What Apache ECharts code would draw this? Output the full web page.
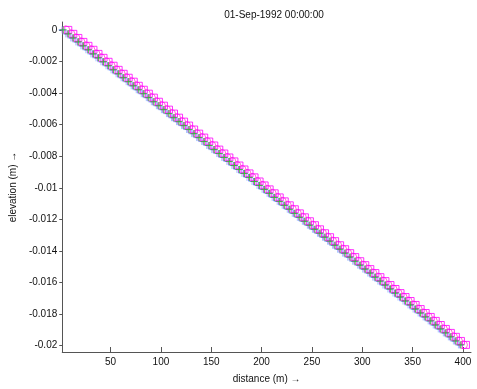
<!DOCTYPE html>
<html>
<head>
<meta charset="utf-8">
<script src="https://cdn.jsdelivr.net/npm/echarts@6/dist/echarts.min.js"></script>
<style>html,body{margin:0;padding:0;background:#fff}#c{width:477px;height:389px}</style>
</head>
<body>
<div id="c"></div>
<script>
var titleText = '01-Sep-1992 00:00:00';
var xName = 'distance (m) \u2192';
var yName = 'elevation (m) \u2192';
var xTicks = [50, 100, 150, 200, 250, 300, 350, 400];
var yTicks = [0, -0.002, -0.004, -0.006, -0.008, -0.01, -0.012, -0.014, -0.016, -0.018, -0.02];

var elev = [0, -0.00025, -0.00051, -0.00076, -0.00101, -0.00126, -0.00152, -0.00177, -0.00202, -0.00227,
  -0.00253, -0.00278, -0.00303, -0.00328, -0.00354, -0.00379, -0.00404, -0.00429, -0.00455, -0.0048,
  -0.00505, -0.0053, -0.00556, -0.00581, -0.00606, -0.00631, -0.00657, -0.00682, -0.00707, -0.00732,
  -0.00758, -0.00783, -0.00808, -0.00833, -0.00859, -0.00884, -0.00909, -0.00934, -0.0096, -0.00985,
  -0.0101, -0.01035, -0.01061, -0.01086, -0.01111, -0.01136, -0.01162, -0.01187, -0.01212, -0.01237,
  -0.01263, -0.01288, -0.01313, -0.01338, -0.01364, -0.01389, -0.01414, -0.01439, -0.01465, -0.0149,
  -0.01515, -0.0154, -0.01566, -0.01591, -0.01616, -0.01641, -0.01667, -0.01692, -0.01717, -0.01742,
  -0.01768, -0.01793, -0.01818, -0.01843, -0.01869, -0.01894, -0.01919, -0.01944, -0.0197, -0.01995];

var xSquares = [8,13,18,23,28,33,38,43,48,53,58,63,68,73,78,83,88,93,98,103,108,113,118,123,128,133,138,143,148,153,158,163,168,173,178,183,188,193,198,203,208,213,218,223,228,233,238,243,248,253,258,263,268,273,278,283,288,293,298,303,308,313,318,323,328,333,338,343,348,353,358,363,368,373,378,383,388,393,398,403];
var xCircles = [5.5,10.5,15.5,20.5,25.5,30.5,35.5,40.5,45.5,50.5,55.5,60.5,65.5,70.5,75.5,80.5,85.5,90.5,95.5,100.5,105.5,110.5,115.5,120.5,125.5,130.5,135.5,140.5,145.5,150.5,155.5,160.5,165.5,170.5,175.5,180.5,185.5,190.5,195.5,200.5,205.5,210.5,215.5,220.5,225.5,230.5,235.5,240.5,245.5,250.5,255.5,260.5,265.5,270.5,275.5,280.5,285.5,290.5,295.5,300.5,305.5,310.5,315.5,320.5,325.5,330.5,335.5,340.5,345.5,350.5,355.5,360.5,365.5,370.5,375.5,380.5,385.5,390.5,395.5,400.5];
var xGreen = [3,8,13,18,23,28,33,38,43,48,53,58,63,68,73,78,83,88,93,98,103,108,113,118,123,128,133,138,143,148,153,158,163,168,173,178,183,188,193,198,203,208,213,218,223,228,233,238,243,248,253,258,263,268,273,278,283,288,293,298,303,308,313,318,323,328,333,338,343,348,353,358,363,368,373,378,383,388,393,398];
var xBlue = [2,7,12,17,22,27,32,37,42,47,52,57,62,67,72,77,82,87,92,97,102,107,112,117,122,127,132,137,142,147,152,157,162,167,172,177,182,187,192,197,202,207,212,217,222,227,232,237,242,247,252,257,262,267,272,277,282,287,292,297,302,307,312,317,322,327,332,337,342,347,352,357,362,367,372,377,382,387,392,397];
var xLight = [0.5,5.5,10.5,15.5,20.5,25.5,30.5,35.5,40.5,45.5,50.5,55.5,60.5,65.5,70.5,75.5,80.5,85.5,90.5,95.5,100.5,105.5,110.5,115.5,120.5,125.5,130.5,135.5,140.5,145.5,150.5,155.5,160.5,165.5,170.5,175.5,180.5,185.5,190.5,195.5,200.5,205.5,210.5,215.5,220.5,225.5,230.5,235.5,240.5,245.5,250.5,255.5,260.5,265.5,270.5,275.5,280.5,285.5,290.5,295.5,300.5,305.5,310.5,315.5,320.5,325.5,330.5,335.5,340.5,345.5,350.5,355.5,360.5,365.5,370.5,375.5,380.5,385.5,390.5,395.5];

function pairs(xs, ys) { return xs.map(function (x, i) { return [x, ys[i]]; }); }
var plus = 'path://M0,5L10,5M5,0L5,10';

function fmtY(v) { return String(Number(v.toFixed(4))); }

var chart = echarts.init(document.getElementById('c'), null, {renderer: 'canvas'});
var axisColor = '#555';
var font = 'Liberation Sans, Arial, sans-serif';
chart.setOption({
  animation: false,
  backgroundColor: '#fff',
  title: {
    text: titleText, left: 269, top: 5, textAlign: 'center',
    textStyle: {fontSize: 10, fontWeight: 'normal', color: '#111', fontFamily: font}
  },
  grid: {left: 57, right: 6, top: 22, bottom: 31, containLabel: false},
  xAxis: {
    type: 'value', min: 2, max: 408,
    name: xName, nameLocation: 'middle', nameGap: 22,
    nameTextStyle: {fontSize: 10, color: '#111', fontFamily: font},
    axisLine: {show: true, onZero: false, lineStyle: {color: axisColor, width: 1}},
    axisTick: {show: true, inside: true, length: 5, customValues: xTicks, lineStyle: {color: axisColor}},
    axisLabel: {customValues: xTicks, fontSize: 10, color: '#111', margin: 5, fontFamily: font},
    splitLine: {show: false}
  },
  yAxis: {
    type: 'value', min: -0.0204, max: 0.0005,
    name: yName, nameLocation: 'middle', nameGap: 40, nameRotate: 90,
    nameTextStyle: {fontSize: 10, color: '#111', fontFamily: font},
    axisLine: {show: true, onZero: false, lineStyle: {color: axisColor, width: 1}},
    axisTick: {show: true, inside: false, length: 3, customValues: yTicks, lineStyle: {color: axisColor}},
    axisLabel: {customValues: yTicks, fontSize: 10, color: '#111', margin: 5, fontFamily: font, formatter: fmtY},
    splitLine: {show: false}
  },
  series: [
    {type: 'scatter', data: pairs(xLight, elev), symbol: plus, symbolSize: 7,
      itemStyle: {color: 'transparent', borderColor: '#8ab4ff', borderWidth: 1}},
    {type: 'scatter', data: pairs(xBlue, elev), symbol: plus, symbolSize: 7,
      itemStyle: {color: 'transparent', borderColor: '#3355ff', borderWidth: 1}},
    {type: 'scatter', data: pairs(xCircles, elev), symbol: 'circle', symbolSize: 8,
      itemStyle: {color: 'transparent', borderColor: '#ff44cc', borderWidth: 1}},
    {type: 'scatter', data: pairs(xSquares, elev), symbol: 'rect', symbolSize: 7,
      itemStyle: {color: 'transparent', borderColor: '#ff00ff', borderWidth: 1}},
    {type: 'scatter', data: pairs(xGreen, elev), symbol: plus, symbolSize: 7,
      itemStyle: {color: 'transparent', borderColor: '#22cc22', borderWidth: 1}}
  ]
});
</script>
</body>
</html>
